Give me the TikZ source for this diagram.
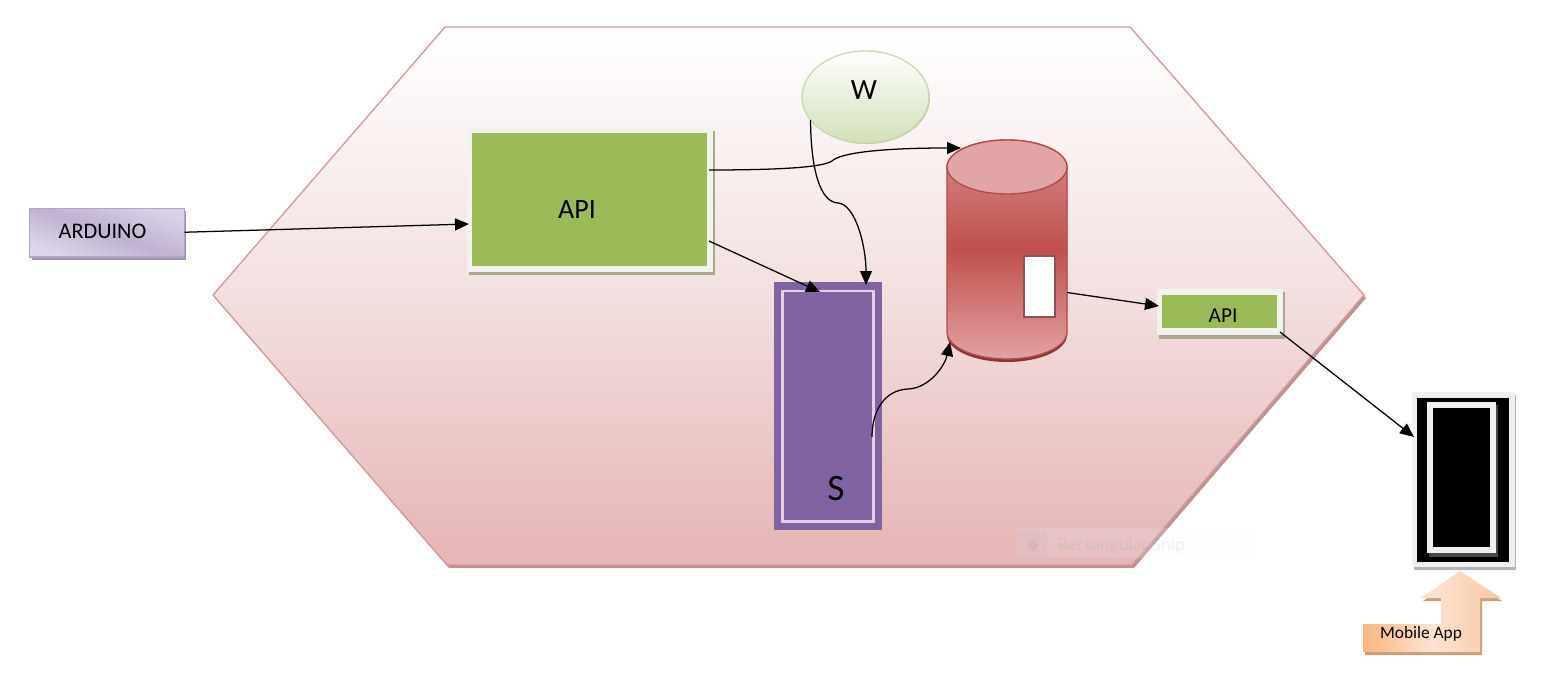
\documentclass[tikz,border=0pt]{standalone}
\usepackage{fontspec}
\setmainfont{Carlito}
\usetikzlibrary{arrows.meta,fit,shapes.geometric}
\definecolor{hexline}{HTML}{D29A9A}
\definecolor{hexshadow}{HTML}{BE9294}
\definecolor{hexmid}{HTML}{F3DFDF}
\definecolor{hexlow}{HTML}{E6B4B4}
\definecolor{offwhite}{HTML}{F2F2EE}
\definecolor{apigreen}{HTML}{9BBB59}
\definecolor{oliveshadow}{HTML}{A9A88E}
\definecolor{violetbox}{HTML}{8064A2}
\definecolor{pinkline}{HTML}{E6CFE6}
\definecolor{snipbox}{HTML}{F2F6FC}
\definecolor{snipicon}{HTML}{8A8A9A}
\definecolor{snipdot}{HTML}{C06060}
\definecolor{sniptext}{HTML}{506080}
\definecolor{ardshadow}{HTML}{9C92AC}
\definecolor{ardline}{HTML}{B2A2C7}
\definecolor{ardtop}{HTML}{D9D2E6}
\definecolor{ardmid}{HTML}{BFB2D2}
\definecolor{ardlow}{HTML}{DDD6E8}
\definecolor{wshadow}{HTML}{B5C795}
\definecolor{wline}{HTML}{CBD9AE}
\definecolor{wlow}{HTML}{D2E0B8}
\definecolor{cylshadow}{HTML}{8E3434}
\definecolor{cylline}{HTML}{B24A4A}
\definecolor{cyltop}{HTML}{D58C8C}
\definecolor{cylmid}{HTML}{C0504D}
\definecolor{cyllow}{HTML}{E2A2A2}
\definecolor{cylcap}{HTML}{E2A5A5}
\definecolor{winline}{HTML}{8C5454}
\definecolor{phshadow}{HTML}{B4B4B4}
\definecolor{phpale}{HTML}{F0F0F0}
\definecolor{phinner}{HTML}{484848}
\definecolor{arrshadow}{HTML}{C99F7C}
\definecolor{arrleft}{HTML}{FAB681}
\definecolor{arrmid}{HTML}{FBE3D2}
\definecolor{arrright}{HTML}{F9C8A2}
\tikzset{
  sz/.style={font=\fontsize{#1}{#1}\selectfont},
  lab/.style={inner sep=0pt,outer sep=0pt,text=black},
  plainbox/.style={inner sep=0pt,outer sep=0pt,rectangle},
  conn/.style={draw=black,line width=0.95pt,-{Triangle[length=10.5pt,width=9pt]}},
}
\begin{document}
\begin{tikzpicture}[x=0.75pt,y=-0.75pt]
\useasboundingbox (0,0) rectangle (1551,677);
\fill[white] (0,0) rectangle (1551,677);
% hexagon
\fill[hexshadow] (215,298) -- (447,30) -- (1132,30) -- (1366,298) -- (1134,568) -- (449,568) -- cycle;
\path[draw=hexline,line width=1pt,top color=white,bottom color=hexlow,middle color=hexmid]
  (213,295) -- (445,27) -- (1130,27) -- (1364,295) -- (1132,565) -- (447,565) -- cycle;
% faint snip label
\fill[snipbox,fill opacity=0.18] (1017,528) rectangle (1252,558);
\fill[snipicon,fill opacity=0.07] (1018,530) rectangle (1047,558);
\fill[snipdot,fill opacity=0.10] (1033,545) circle [radius=4pt];
\node[lab,anchor=west,sz=14,text=sniptext,text opacity=0.08] (snip) at (1058,546) {Rectangular Snip};
% arduino
\fill[ardshadow] (32,211) rectangle (186,260);
\node[plainbox,fit={(29.5,208.5)(184.5,257)},draw=ardline,line width=1.2pt,top color=ardtop,bottom color=ardlow,middle color=ardmid,shading angle=-20] (ard) {};
\node[lab,sz=16.7] (ardl) at (102.5,231) {ARDUINO};
% big API
\fill[oliveshadow] (469,131) rectangle (715,275);
\node[plainbox,fit={(467,128)(713,272)},fill=offwhite] (api) {};
\node[plainbox,fit={(472,133)(707,266)},fill=apigreen] (apif) {};
\node[lab,sz=21] (apil) at (577,210) {API};
% W
\fill[wshadow] (866.5,98) ellipse [x radius=47.6pt,y radius=34.5pt];
\node[ellipse,inner sep=0pt,outer sep=0pt,minimum width=95.25pt,minimum height=69pt,draw=wline,line width=1pt,top color=white,bottom color=wlow] (w) at (865.5,97) {};
\node[lab,sz=22] (wl) at (864,90) {W};
% S
\node[plainbox,fit={(774,282)(882,530)},fill=violetbox] (sb) {};
\node[plainbox,fit={(782.5,291)(873.5,521.5)},draw=pinkline,line width=2.2pt] (sin) {};
\node[lab,sz=28] (sl) at (836,488.5) {S};
% cylinder
\fill[cylshadow] (947,170) -- (947,335) arc[start angle=180,end angle=360,x radius=45pt,y radius=20.25pt] -- (1067,170) -- cycle;
\path[draw=cylline,line width=1pt,top color=cyltop,bottom color=cyllow,middle color=cylmid]
  (947,167) -- (947,332) arc[start angle=180,end angle=360,x radius=45pt,y radius=20.25pt] -- (1067,167) arc[start angle=0,end angle=180,x radius=45pt,y radius=20.25pt] -- cycle;
\node[ellipse,inner sep=0pt,outer sep=0pt,minimum width=90pt,minimum height=40.5pt,draw=cylline,line width=1pt,fill=cylcap] (dbtop) at (1007,167) {};
\node[plainbox,fit={(947,140)(1067,359)}] (db) {};
\node[plainbox,fit={(1024,256)(1055,317)},fill=white,draw=winline,line width=0.8pt] (dbw) {};
% small API
\fill[oliveshadow] (1159,292) rectangle (1285,339);
\node[plainbox,fit={(1157,289)(1283,335)},fill=offwhite] (api2) {};
\node[plainbox,fit={(1162,295)(1277,328)},fill=apigreen] (api2f) {};
\node[lab,sz=16] (api2l) at (1223,316) {API};
% phone
\fill[phshadow] (1414,395) rectangle (1516,570);
\node[plainbox,fit={(1412,392)(1515,567)},fill=phpale] (ph) {};
\node[plainbox,fit={(1417,398)(1509,562)},fill=black] (phb) {};
\fill[phinner] (1429,405) rectangle (1498,557);
\node[plainbox,fit={(1427,402)(1496,553)},fill=phpale] (phi) {};
\node[plainbox,fit={(1433,408)(1490,547)},fill=black] (phc) {};
% mobile app arrow
\fill[arrshadow] (1365,627) -- (1443,627) -- (1443,601) -- (1423,601) -- (1460,574) -- (1502,601) -- (1482,601) -- (1482,655) -- (1365,655) -- cycle;
\path[left color=arrleft,right color=arrright,middle color=arrmid]
  (1363,624) -- (1441,624) -- (1441,598) -- (1421,598) -- (1460,571) -- (1501,598) -- (1480,598) -- (1480,652) -- (1363,652) -- cycle;
\node[lab,sz=13] (mob) at (1421,634) {Mobile App};
% connectors
\draw[conn] ([shift={(0,-0.5)}]ard.east) -- ([shift={(2,24)}]api.west);
\draw[conn] ([shift={(-4,-30)}]api.east) .. controls (770,170) and (822,168) .. (832,161) .. controls (840,153) and (880,148) .. ([shift={(14,8)}]db.north west);
\draw[conn] ([shift={(-4,41)}]api.east) -- ([shift={(-8,10)}]sb.north);
\draw[conn] ([shift={(-55,23)}]w.center) .. controls (811,170) and (820,202) .. (838,203) .. controls (855,204) and (866,245) .. ([shift={(38,3)}]sb.north);
\draw[conn] ([shift={(-10,31)}]sb.east) .. controls (872,410) and (885,390) .. (908,389) .. controls (930,388) and (945,365) .. ([shift={(3,-17)}]db.south west);
\draw[conn] ([shift={(0,43)}]db.east) -- ([shift={(2,-6)}]api2.west);
\draw[conn] ([shift={(-3,-3)}]api2.south east) -- ([shift={(2,-42.5)}]ph.west);
\end{tikzpicture}
\end{document}
